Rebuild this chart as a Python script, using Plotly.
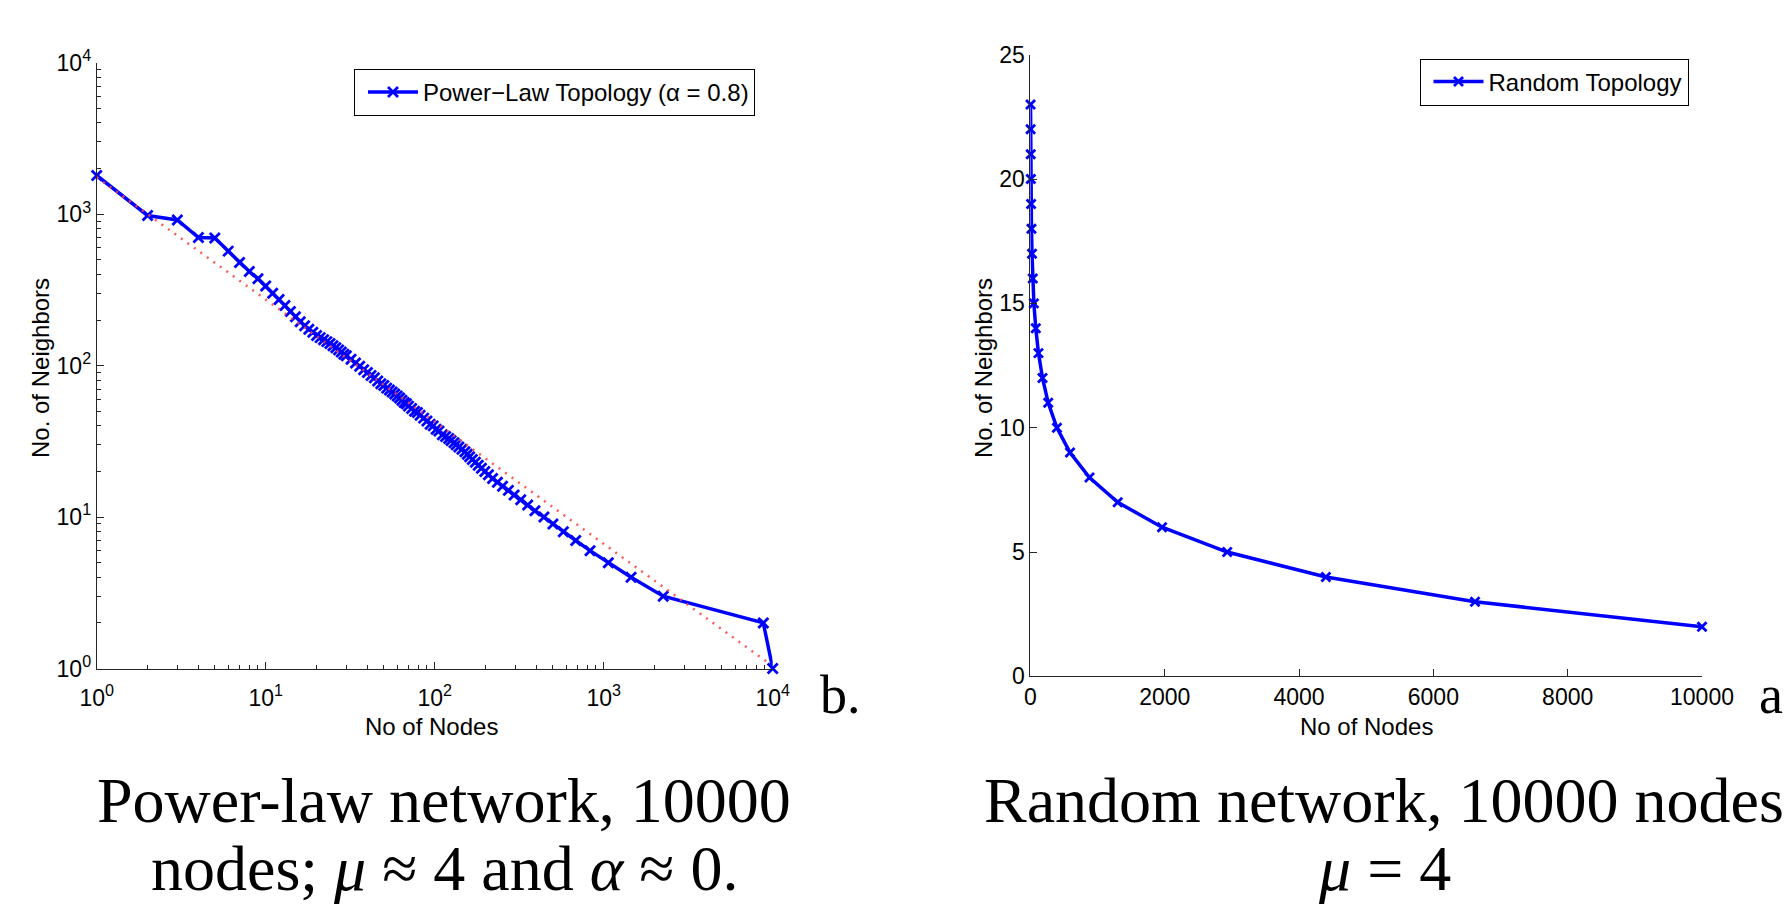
import plotly.graph_objects as go

W, H = 1785, 909

# ---------------- data: power-law topology (left, log-log) ----------------
pl_nodes = [1, 2, 3, 4, 5, 6, 7, 8, 9, 10, 11, 12, 13, 14, 15, 16, 17, 18, 19, 20,
            21, 22, 23, 24, 25, 26, 27, 28, 29, 30,
            32, 34, 36, 38, 40, 42, 44, 46, 48, 50,
            52, 54, 56, 58, 60, 62, 64, 66, 68, 70,
            73, 76, 79, 82, 86, 90, 94, 98, 102, 106,
            111, 116, 121, 125, 130, 134, 139, 145, 151, 156,
            161, 167, 174, 181, 189, 198, 208, 220, 235, 252,
            273, 295, 323, 355, 392, 443, 501, 577, 683, 830,
            1065, 1452, 2250, 8800, 10000]
pl_neighbors = [1800, 980, 915, 700, 695, 570, 480, 418, 375, 335,
                300, 273, 249, 228, 210, 195, 183, 174, 166, 158,
                153, 148, 144, 140, 135, 131, 127, 123, 119, 116,
                110, 104, 99, 94, 90, 86, 83, 79, 76, 74,
                71, 69, 67, 65, 63, 61, 59, 57, 56, 54,
                52, 50, 49, 47, 45, 43, 41, 40, 38, 37,
                35, 34, 33, 32, 31, 30, 29, 28, 27, 26,
                25, 24, 23, 22, 21, 20, 19, 18, 17, 16,
                15, 14, 13, 12, 11, 10, 9, 8, 7, 6,
                5, 4, 3, 2, 1]
# fitted power-law reference line (alpha = 0.8), endpoints
fit_nodes = [1, 9200]
fit_neighbors = [1750, 1.11]

# ---------------- data: random topology (right, linear) ----------------
rnd_nodes = [2, 3, 5, 7, 10, 16, 24, 35, 52, 80, 120, 180, 265, 395, 590, 880,
             1300, 1960, 2930, 4400, 6620, 10000]
rnd_neighbors = [23, 22, 21, 20, 19, 18, 17, 16, 15, 14, 13, 12, 11, 10, 9, 8,
                 7, 6, 5, 4, 3, 2]

# tick labels
log_tickvals = [1, 10, 100, 1000, 10000]
log_ticktext = ["10<sup>0</sup>", "10<sup>1</sup>", "10<sup>2</sup>", "10<sup>3</sup>", "10<sup>4</sup>"]
lin_x_ticks = [0, 2000, 4000, 6000, 8000, 10000]
lin_x_text = ["0", "2000", "4000", "6000", "8000", "10000"]
lin_y_ticks = [0, 5, 10, 15, 20, 25]
lin_y_text = ["0", "5", "10", "15", "20", "25"]

# ---------------- layout geometry (pixels) ----------------
def px_x(p):
    return p / W

def px_y(p):
    return 1 - p / H

L_x0, L_x1, L_y0, L_y1 = 96.7, 772.7, 62.7, 668.5
R_x0, R_x1, R_y0, R_y1 = 1030.4, 1702.0, 54.7, 676.4

SANS = "Liberation Sans, Arial, sans-serif"
SERIF = "Liberation Serif, Times New Roman, serif"
BLUE = "#0000ff"
AX = "#262626"

minor_vals = [m * 10 ** k for k in range(4) for m in range(2, 10)]

fig = go.Figure()

fig.add_trace(go.Scatter(
    x=pl_nodes, y=pl_neighbors, mode="lines+markers",
    name="Power\u2212Law Topology (\u03b1 = 0.8)",
    line=dict(color=BLUE, width=3.5),
    marker=dict(symbol="x-thin", size=10, color=BLUE, line=dict(color=BLUE, width=2.8)),
    xaxis="x", yaxis="y", cliponaxis=False, legend="legend",
))
fig.add_trace(go.Scatter(
    x=fit_nodes, y=fit_neighbors, mode="lines",
    line=dict(color="rgba(255,70,70,0.9)", width=2.5, dash="2px,6px"),
    xaxis="x", yaxis="y", showlegend=False, hoverinfo="skip",
))
fig.add_trace(go.Scatter(
    x=rnd_nodes, y=rnd_neighbors, mode="lines+markers",
    name="Random Topology",
    line=dict(color=BLUE, width=3.5),
    marker=dict(symbol="x-thin", size=9, color=BLUE, line=dict(color=BLUE, width=2.8)),
    xaxis="x2", yaxis="y2", cliponaxis=False, legend="legend2",
))

axis_common = dict(
    showline=True, linecolor=AX, linewidth=1, ticks="inside", ticklen=7,
    tickcolor=AX, tickwidth=1, showgrid=False, zeroline=False, mirror=False,
    automargin=False,
    tickfont=dict(family=SANS, size=23, color="black"),
)

legend_common = dict(
    xanchor="center", yanchor="middle",
    bordercolor="black", borderwidth=1, bgcolor="white",
    font=dict(family=SANS, size=24, color="black"),
    itemwidth=50, indentation=8, tracegroupgap=0,
)

fig.update_layout(
    width=W, height=H, autosize=False,
    margin=dict(l=0, r=0, t=0, b=0, pad=0),
    paper_bgcolor="white", plot_bgcolor="white",
    showlegend=True,
    xaxis=dict(axis_common, type="log", range=[0, 4],
               domain=[px_x(L_x0), px_x(L_x1)], anchor="y",
               tickmode="array", tickvals=log_tickvals, ticktext=log_ticktext,
               ticklabelstandoff=9,
               minor=dict(ticks="inside", ticklen=4, tickcolor=AX,
                          tickmode="array", tickvals=minor_vals)),
    yaxis=dict(axis_common, type="log", range=[0, 4],
               domain=[px_y(L_y1), px_y(L_y0)], anchor="x",
               tickmode="array", tickvals=log_tickvals, ticktext=log_ticktext,
               minor=dict(ticks="inside", ticklen=4, tickcolor=AX,
                          tickmode="array", tickvals=minor_vals)),
    xaxis2=dict(axis_common, range=[0, 10000],
                domain=[px_x(R_x0), px_x(R_x1)], anchor="y2",
                tickmode="array", tickvals=lin_x_ticks, ticktext=lin_x_text),
    yaxis2=dict(axis_common, range=[0, 25],
                domain=[px_y(R_y1), px_y(R_y0)], anchor="x2",
                tickmode="array", tickvals=lin_y_ticks, ticktext=lin_y_text),
    legend=dict(legend_common, x=px_x(554.5), y=px_y(92.5)),
    legend2=dict(legend_common, x=px_x(1554), y=px_y(82)),
)

ann = []
# axis titles
for xc, yc, txt, ang in [
    (431, 726, "No of Nodes", 0),
    (1366, 726, "No of Nodes", 0),
    (41, 368, "No. of Neighbors", -90),
    (984, 368, "No. of Neighbors", -90),
]:
    ann.append(dict(x=px_x(xc), y=px_y(yc), xref="paper", yref="paper",
                    text=txt, showarrow=False, textangle=ang,
                    xanchor="center", yanchor="middle",
                    font=dict(family=SANS, size=24, color="black")))
# panel letters
ann.append(dict(x=px_x(818), y=px_y(695), xref="paper", yref="paper", text="b.",
                showarrow=False, xanchor="left", yanchor="middle",
                font=dict(family=SERIF, size=54, color="black")))
ann.append(dict(x=px_x(1757), y=px_y(695), xref="paper", yref="paper", text="a.",
                showarrow=False, xanchor="left", yanchor="middle",
                font=dict(family=SERIF, size=54, color="black")))
# captions
caps = [
    (444, 800, "Power-law network, 10000"),
    (444, 868, "nodes; <i>\u03bc</i> \u2248 4 and <i>\u03b1</i> \u2248 0."),
    (1384, 800, "Random network, 10000 nodes"),
    (1384, 868, "<i>\u03bc</i> = 4"),
]
for xc, yc, txt in caps:
    ann.append(dict(x=px_x(xc), y=px_y(yc), xref="paper", yref="paper", text=txt,
                    showarrow=False, xanchor="center", yanchor="middle",
                    font=dict(family=SERIF, size=64, color="black")))
fig.update_layout(annotations=ann)

fig.write_html("out.html")
